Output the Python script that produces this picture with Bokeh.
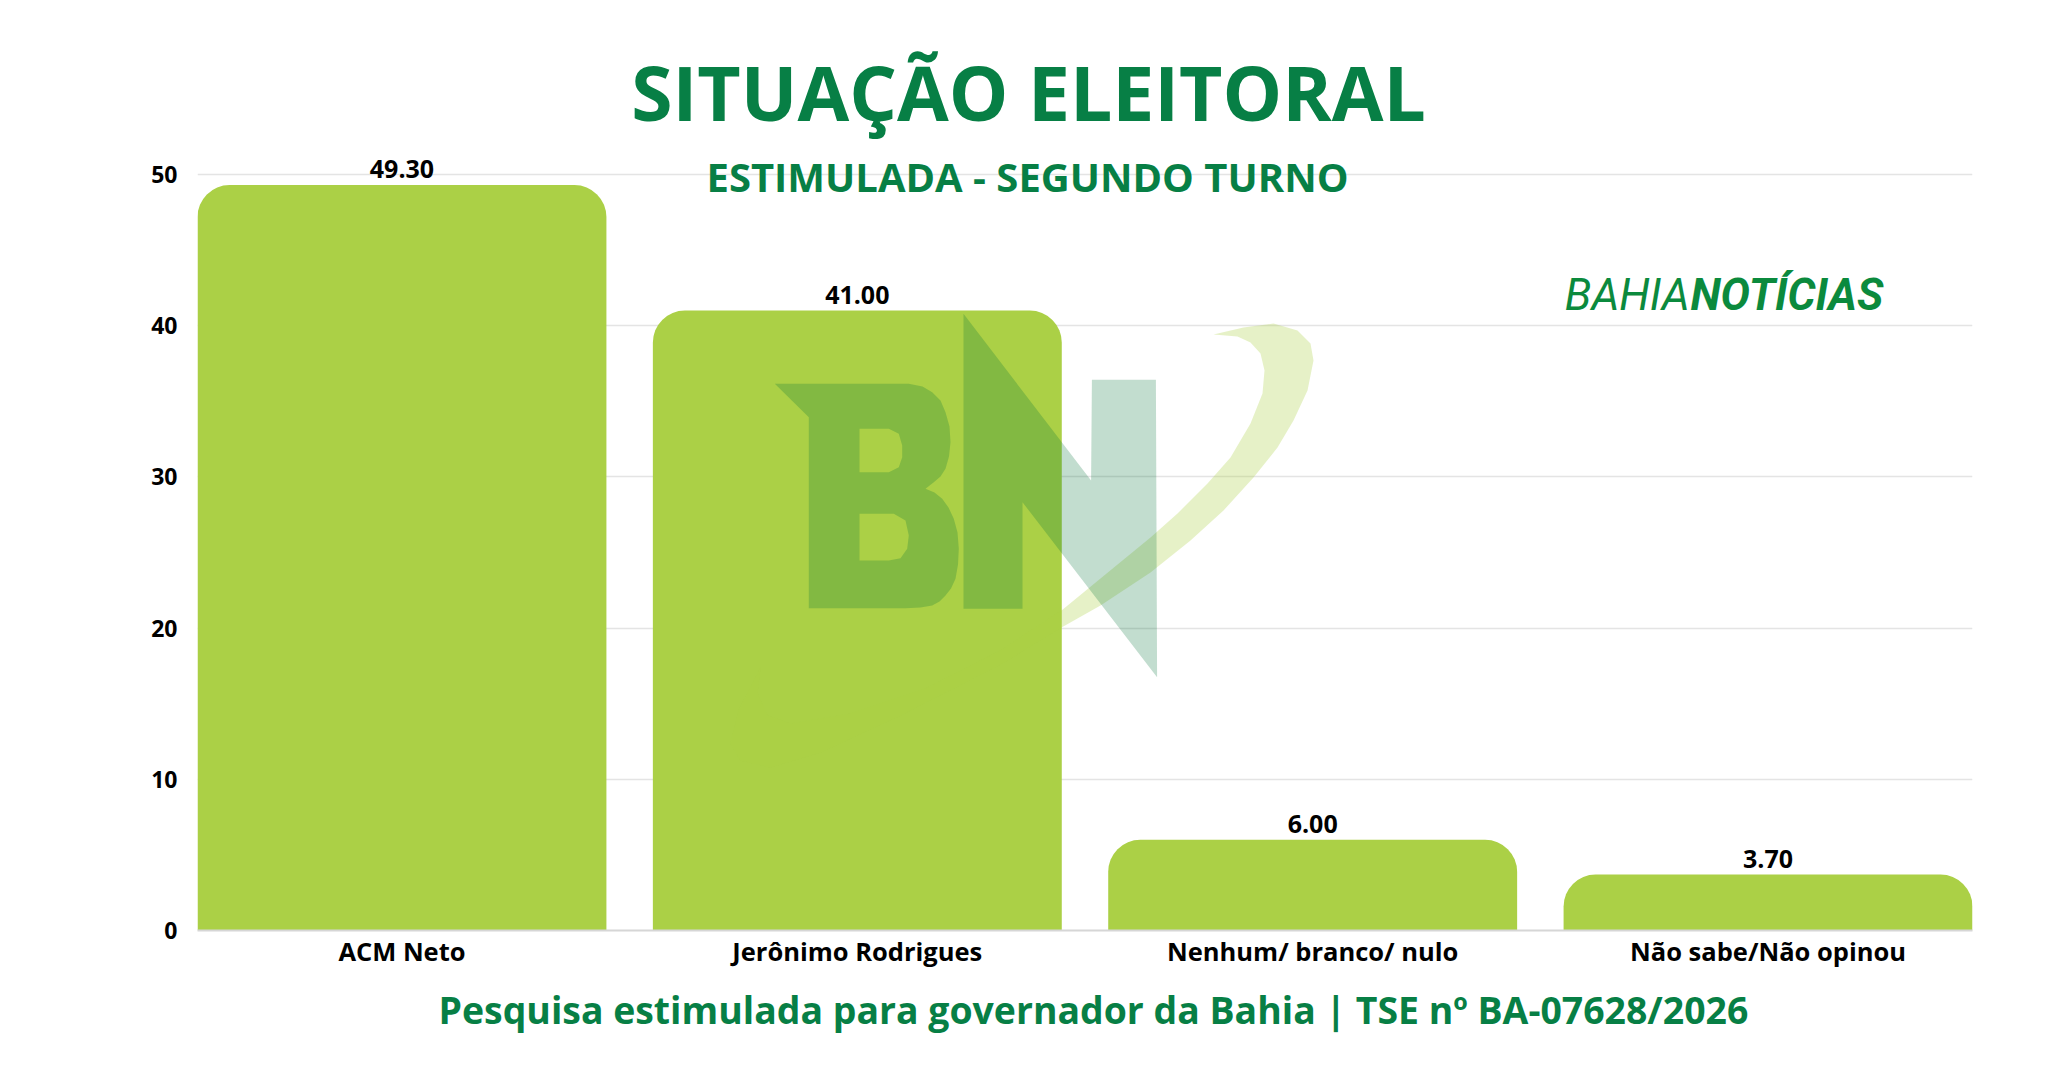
import numpy as np
from bokeh.plotting import figure
from bokeh.models import (ColumnDataSource, Range1d, Label, LabelSet, FixedTicker, Title)
from bokeh.core.properties import value
from bokeh.embed import file_html
from bokeh.resources import INLINE

# ---------------- data ----------------
categories = ["ACM Neto", "Jerônimo Rodrigues", "Nenhum/ branco/ nulo", "Não sabe/Não opinou"]
percentages = [49.30, 41.00, 6.00, 3.70]
y_ticks = [0, 10, 20, 30, 40, 50]

title_text = "SITUAÇÃO ELEITORAL"
subtitle_text = "ESTIMULADA - SEGUNDO TURNO"
footer_text = "Pesquisa estimulada para governador da Bahia | TSE nº BA-07628/2026"
brand_light = "BAHIA"
brand_bold = "NOTÍCIAS"

# ---------------- style ----------------
GREEN = "#077f45"
BAR = "#abd046"
FONT = "Open Sans"
W, H = 2049, 1072
FL, FR, FB = 197, 1972, 930          # frame edges (page pixels); frame top = 0
PX_PER_UNIT = (930 - 174) / 50.0      # y=50 gridline at 174
Y_TOP = 50 + 174 / PX_PER_UNIT
BAR_W = 0.898

xs = list(range(len(categories)))
src = ColumnDataSource(dict(
    x=xs, top=percentages, lbl=[f"{v:.2f}" for v in percentages]))

p = figure(width=W, height=H,
           x_range=Range1d(-BAR_W / 2, len(categories) - 1 + BAR_W / 2),
           y_range=Range1d(0, Y_TOP),
           output_backend="svg", toolbar_location=None,
           min_border_left=FL, min_border_right=W - FR,
           min_border_top=0, min_border_bottom=H - FB)
p.outline_line_color = None
p.background_fill_color = "white"
p.border_fill_color = "white"
p.extra_x_ranges = {"px": Range1d(FL, FR)}
p.extra_y_ranges = {"px": Range1d(FB, 0)}

# axes
p.xaxis.ticker = FixedTicker(ticks=xs)
p.xaxis.major_label_overrides = {i: c for i, c in enumerate(categories)}
p.xaxis.axis_line_color = "#d6d6d6"
p.xaxis.axis_line_width = 2
p.xaxis.major_tick_line_color = None
p.xaxis.minor_tick_line_color = None
p.xaxis.major_tick_out = 0
p.xaxis.major_label_text_font = FONT
p.xaxis.major_label_text_font_style = "bold"
p.xaxis.major_label_text_font_size = "25.5px"
p.xaxis.major_label_text_color = "black"
p.xaxis.major_label_standoff = 3

p.yaxis.ticker = FixedTicker(ticks=y_ticks)
p.yaxis.axis_line_color = None
p.yaxis.major_tick_line_color = None
p.yaxis.minor_tick_line_color = None
p.yaxis.major_tick_out = 0
p.yaxis.major_label_text_font = FONT
p.yaxis.major_label_text_font_style = "bold"
p.yaxis.major_label_text_font_size = "23px"
p.yaxis.major_label_text_color = "black"
p.yaxis.major_label_standoff = 20

p.xgrid.grid_line_color = None
p.ygrid.grid_line_color = "#e4e4e4"
p.ygrid.grid_line_width = 1.5

# bars
p.vbar(x="x", top="top", width=BAR_W, source=src, fill_color=BAR,
       line_color=None, border_radius=(32, 32, 0, 0))

# ---------------- watermark (decoration, page pixel coords) ----------------
sw_outer = [(1213, 334), (1243, 327), (1273, 323), (1297, 330), (1310, 343), (1313, 360),
            (1307, 390), (1293, 420), (1277, 447), (1253, 477), (1223, 510), (1190, 540),
            (1150, 572), (1100, 605), (1061, 627), (1000, 664), (900, 715), (820, 752),
            (770, 767), (740, 760), (730, 743), (738, 710), (760, 667)]
sw_inner = [(757, 693), (767, 715), (790, 723), (850, 713), (925, 688), (1000, 650),
            (1061, 610), (1100, 578), (1150, 537), (1177, 513), (1207, 483), (1230, 457),
            (1250, 423), (1262, 393), (1264, 370), (1260, 353), (1250, 342), (1237, 336)]
sw = sw_outer + sw_inner
p.patch([a for a, b in sw], [b for a, b in sw], fill_color=BAR, fill_alpha=0.3,
        line_color=None, x_range_name="px", y_range_name="px")

# "B"
b_out = [(774.3, 383.3), (908.3, 383.3), (922, 386), (931.7, 391.7), (940, 400), (945, 411.7),
         (949, 426), (950, 441.7), (948.5, 456), (945, 468.3), (940, 476), (933.3, 481.7),
         (925, 488.3), (934, 492), (941.7, 498.3), (948, 507), (953.3, 518.3), (957, 532),
         (958.3, 548.3), (957.5, 564), (955, 578.3), (950.5, 588), (945, 595), (939, 601),
         (931.7, 605), (920, 607), (905, 607.7), (808.3, 607.7), (808.3, 416.7)]
h1 = [(859, 428.3), (888.3, 428.3), (898.3, 433.3), (901.7, 445), (901.7, 456.7),
      (898.3, 466.7), (888.3, 471.7), (859, 471.7)]
h2 = [(859, 513.3), (893.3, 513.3), (905, 520), (908.3, 535), (906.7, 548.3),
      (900, 557.7), (888.3, 560), (859, 560)]
p.multi_polygons(xs=[[[[a for a, b in r] for r in (b_out, h1, h2)]]],
                 ys=[[[[b for a, b in r] for r in (b_out, h1, h2)]]],
                 fill_color="#007235", fill_alpha=0.24, line_color=None,
                 x_range_name="px", y_range_name="px")

# "N"
nx = [963.0, 1090.6, 1091.4, 1155.4, 1156.6, 1022.0, 1022.0, 963.0]
ny = [313.3, 480.0, 379.3, 379.3, 676.7, 501.7, 608.3, 608.3]
p.patch(nx, ny, fill_color="#007235", fill_alpha=0.24, line_color=None,
        x_range_name="px", y_range_name="px")

# value labels
p.add_layout(LabelSet(x="x", y="top", text="lbl", source=src, y_offset=7,
                      text_align="center", text_baseline="alphabetic",
                      text_font=value(FONT), text_font_style="bold",
                      text_font_size="25px", text_color="black"))

# ---------------- texts ----------------
def lab(x, y, text, size, color=GREEN, style="bold", align="center", font=FONT):
    p.add_layout(Label(x=x, y=y, text=text, x_range_name="px", y_range_name="px",
                       text_align=align, text_baseline="alphabetic",
                       text_font=font, text_font_style=style,
                       text_font_size=f"{size}px", text_color=color))

lab(1028, 121 - 0.39 * 75, title_text, 75)
lab(1027, 192 - 0.39 * 40, subtitle_text, 40)
lab(1689, 312 - 0.39 * 44, brand_light, 44, color="#0b8a3d", style="italic", align="right",
    font="Roboto")
lab(1690, 312 - 0.39 * 44, brand_bold, 44, color="#0b8a3d", style="bold italic", align="left",
    font="Roboto")

footer = Title(text=footer_text, align="left", offset=241,
               text_font=FONT, text_font_style="bold", text_font_size="37.4px",
               text_color=GREEN, standoff=22)
p.add_layout(footer, "below")

open("out.html", "w").write(file_html(p, INLINE))
